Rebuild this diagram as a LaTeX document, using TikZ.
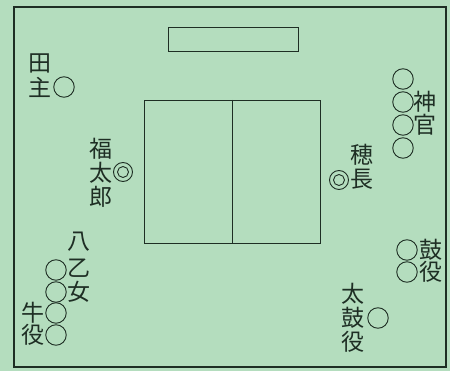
\documentclass[tikz,border=0pt]{standalone}
\usepackage{fontspec}
\newfontfamily\jpfont{Noto Sans CJK JP}
\definecolor{bggreen}{RGB}{180,221,190}
\definecolor{ink}{RGB}{30,46,36}
\tikzset{
  ch/.style={font=\jpfont\fontsize{23}{23}\selectfont, text=ink, inner sep=0pt, anchor=center},
  seat/.style={circle, draw=ink, line width=0.9pt, minimum size=20.5pt, inner sep=0pt},
  chief/.style={circle, draw=ink, line width=0.9pt, minimum size=19pt, inner sep=0pt},
  chiefin/.style={draw=ink, line width=0.9pt},
  frame/.style={draw=ink, line width=1.2pt},
  box/.style={draw=ink, line width=0.9pt}
}
\begin{document}
\begin{tikzpicture}[x=1pt,y=-1pt]
\useasboundingbox (0,0) rectangle (450,371);
\fill[bggreen] (0,0) rectangle (450,371);
\draw[frame] (14,7) rectangle (446,367);
% stage elements
\draw[box] (168,27) rectangle (298,51);
\draw[box] (144,100) rectangle (320,243);
\draw[box] (232,100) -- (232,243);
% 田主
\node[ch] (ta1) at (40,63) {田};
\node[ch] (ta2) at (40,87) {主};
\node[seat] (taS) at (64,87) {};
% 神官
\node[seat] (k1) at (403,79) {};
\node[seat] (k2) at (403,102) {};
\node[seat] (k3) at (403,125) {};
\node[seat] (k4) at (403,148) {};
\node[ch] (kt1) at (425,102) {神};
\node[ch] (kt2) at (425,125) {官};
% 福太郎
\node[ch] (f1) at (101,149) {福};
\node[ch] (f2) at (101,173) {太};
\node[ch] (f3) at (101,197) {郎};
\node[chief] (fS) at (123,172) {};
\draw[chiefin] (fS.center) circle (5.5);
% 穂長
\node[ch] (h1) at (362,155) {穂};
\node[ch] (h2) at (362,179) {長};
\node[chief] (hS) at (339,180) {};
\draw[chiefin] (hS.center) circle (5.5);
% 八乙女
\node[ch] (y1) at (79,242) {八};
\node[ch] (y2) at (79,268) {乙};
\node[ch] (y3) at (79,292) {女};
\node[seat] (yS1) at (56,270) {};
\node[seat] (yS2) at (56,292) {};
% 牛役
\node[seat] (uS1) at (56,313) {};
\node[seat] (uS2) at (56,335) {};
\node[ch] (u1) at (33,313) {牛};
\node[ch] (u2) at (33,335) {役};
% 鼓役
\node[seat] (tS1) at (407,250) {};
\node[seat] (tS2) at (407,272) {};
\node[ch] (t1) at (431,250) {鼓};
\node[ch] (t2) at (431,272) {役};
% 太鼓役
\node[ch] (d1) at (353,294) {太};
\node[ch] (d2) at (353,318) {鼓};
\node[ch] (d3) at (353,342) {役};
\node[seat] (dS) at (378,318) {};
\end{tikzpicture}
\end{document}
